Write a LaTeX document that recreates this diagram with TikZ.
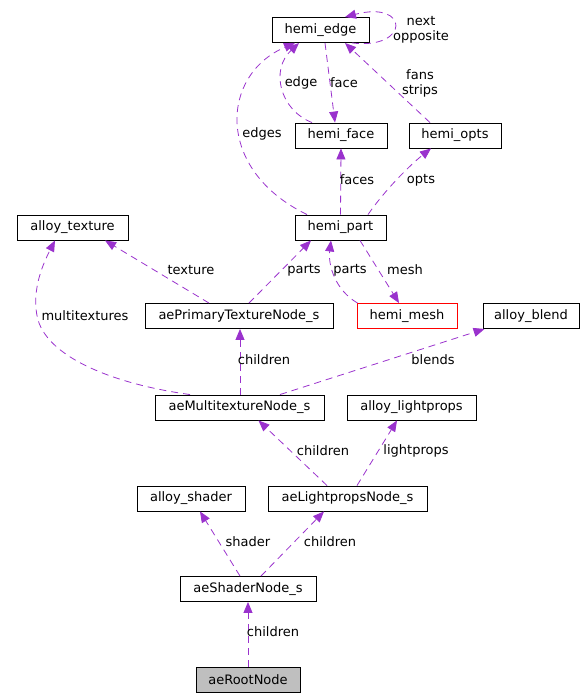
\documentclass[tikz,border=0pt]{standalone}
\usepackage{fontspec}
\setmainfont{DejaVu Sans}
\usepackage{xcolor}
\usepackage{tikz}
\usetikzlibrary{arrows.meta}
\definecolor{edgepurple}{HTML}{9A32CD}
\definecolor{rootgray}{HTML}{BFBFBF}

\begin{document}
\begin{tikzpicture}[x=1pt,y=-1pt,
  cls/.style={draw=black,line width=0.9pt,minimum height=25pt,inner sep=0pt,font=\fontsize{13pt}{15pt}\selectfont},
  clsmesh/.style={cls,draw=red},
  clsroot/.style={cls,fill=rootgray},
  rel/.style={edgepurple,line width=0.8pt,dash pattern=on 7pt off 5pt,-{Triangle[length=11pt,width=9pt]}},
  lbl/.style={text=black,inner sep=0pt,align=center,font=\fontsize{13pt}{15pt}\selectfont}]
\useasboundingbox (0,0) rectangle (584,697);
%% classes
\foreach \n/\x/\y/\w/\s/\t in {hemiedge/320.5/30/97/cls/hemi\_edge,
    hemiface/341/135.5/92/cls/hemi\_face, hemiopts/455/135.5/92/cls/hemi\_opts,
    hemipart/340.5/227.5/91/cls/hemi\_part, alloytexture/72.5/227.5/111/cls/alloy\_texture,
    primarytex/239/316/188/cls/aePrimaryTextureNode\_s, hemimesh/407/316/100/clsmesh/hemi\_mesh,
    alloyblend/531/316/96/cls/alloy\_blend, multitex/239.5/407.5/169/cls/aeMultitextureNode\_s,
    alloylight/411.5/407.5/129/cls/alloy\_lightprops, alloyshader/191/498.5/108/cls/alloy\_shader,
    lightnode/347.5/498.5/159/cls/aeLightpropsNode\_s, shadernode/248/589/136/cls/aeShaderNode\_s,
    rootnode/248/679.5/104/clsroot/aeRootNode}
  \node[\s,minimum width=\w pt] (\n) at (\x,\y) {\t};
%% relations
\draw[rel] (rootnode.north) -- (shadernode.south) node[lbl] (lchildroot) at (273,632) {children};
\draw[rel] ([xshift=-8pt]shadernode.north) -- ([xshift=9pt]alloyshader.south) node[lbl] (lshader) at (248,542) {shader};
\draw[rel] ([xshift=13pt]shadernode.north) -- ([xshift=-23.5pt]lightnode.south) node[lbl] (lchildshader) at (330,542) {children};
\draw[rel] ([xshift=-20.5pt]lightnode.north) -- ([xshift=19pt]multitex.south) node[lbl] (lchildlight) at (323,451) {children};
\draw[rel] ([xshift=9.5pt]lightnode.north) -- ([xshift=-14.5pt]alloylight.south) node[lbl] (llightprops) at (416,451) {lightprops};
\draw[rel] ([xshift=0.5pt]multitex.north) -- ([xshift=1pt]primarytex.south) node[lbl] (lchildmulti) at (264,360) {children};
\draw[rel] ([xshift=-49.5pt]multitex.north) .. controls (120,385) and (50,360) .. (38,320)
  .. controls (30,290) and (45,260) .. ([xshift=-17.5pt]alloytexture.south) node[lbl] (lmultitex) at (85,316) {multitextures};
\draw[rel] ([xshift=40.5pt]multitex.north) -- ([xshift=2pt]alloyblend.south west) node[lbl] (lblends) at (433,360) {blends};
\draw[rel] ([xshift=-30pt]primarytex.north) -- ([xshift=32.5pt]alloytexture.south) node[lbl] (ltexture) at (191,270) {texture};
\draw[rel] ([xshift=10pt]primarytex.north) -- ([xshift=-29.5pt]hemipart.south) node[lbl] (lpartsprim) at (304,270) {parts};
\draw[rel] ([xshift=1pt]hemimesh.north west) .. controls (335,290) and (328,265) .. ([xshift=-9.5pt]hemipart.south)
  node[lbl] (lpartsmesh) at (350,270) {parts};
\draw[rel] ([xshift=19.5pt]hemipart.south) -- ([xshift=-8pt]hemimesh.north) node[lbl] (lmesh) at (405,270) {mesh};
\draw[rel] (hemipart.north) -- (hemiface.south) node[lbl] (lfaces) at (357,180) {faces};
\draw[rel] ([xshift=27.5pt]hemipart.north) .. controls (385,190) and (410,165) .. ([xshift=-24pt]hemiopts.south)
  node[lbl] (lopts) at (421,180) {opts};
\draw[rel] ([xshift=-33.5pt]hemipart.north) .. controls (215,170) and (220,75) .. ([xshift=-25.5pt]hemiedge.south)
  node[lbl] (ledges) at (262,134) {edges};
\draw[rel] ([xshift=-29pt]hemiface.north) .. controls (280,110) and (270,70) .. ([xshift=-21.5pt]hemiedge.south)
  node[lbl] (ledge) at (301,83) {edge};
\draw[rel] ([xshift=4.5pt]hemiedge.south) -- ([xshift=-6pt]hemiface.north) node[lbl] (lface) at (344,83) {face};
\draw[rel] ([xshift=-25pt]hemiopts.north) -- ([xshift=24.5pt]hemiedge.south) node[lbl] (lfans) at (420,83) {fans\\strips};
\draw[rel] ([xshift=31.5pt]hemiedge.south) .. controls (410,50) and (410,0) .. ([xshift=24.5pt]hemiedge.north)
  node[lbl] (lnext) at (421,29.5) {next\\opposite};
\end{tikzpicture}
\end{document}
